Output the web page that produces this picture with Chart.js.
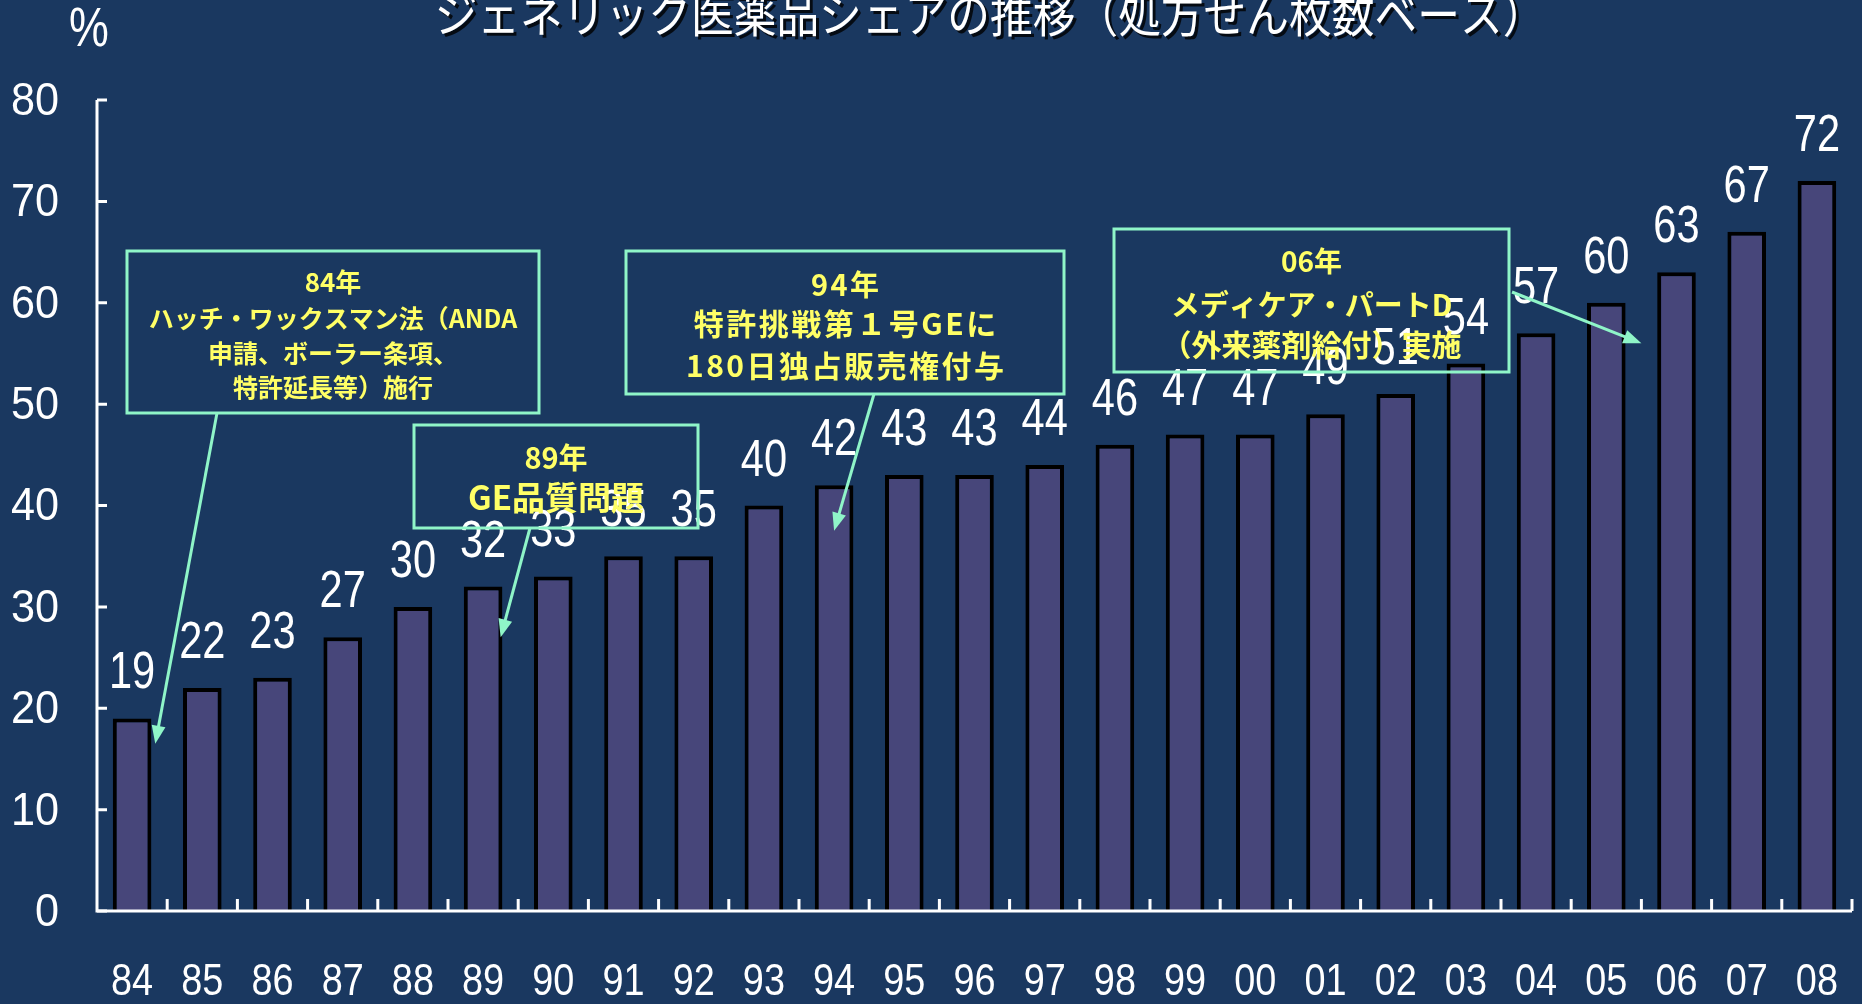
<!DOCTYPE html>
<html>
<head>
<meta charset="utf-8">
<script src="https://cdn.jsdelivr.net/npm/chart.js@4.4.1/dist/chart.umd.min.js"></script>
<style>
  html, body { margin: 0; background: #1a3860; }
  #wrap { width: 1862px; height: 1004px; }
</style>
</head>
<body>
<div id="wrap"><canvas id="share-chart"></canvas></div>
<script>
const years = ["84", "85", "86", "87", "88", "89", "90", "91", "92", "93", "94", "95", "96",
  "97", "98", "99", "00", "01", "02", "03", "04", "05", "06", "07", "08"];
const shares = [19, 22, 23, 27, 30, 32, 33, 35, 35, 40, 42, 43, 43, 44, 46, 47, 47, 49, 51,
  54, 57, 60, 63, 67, 72];
const yTickValues = [0, 10, 20, 30, 40, 50, 60, 70, 80];

const titleText = "ジェネリック医薬品シェアの推移（処方せん枚数ベース）";

// event notes: box in pixels, arrow tip on [category, fraction of category, value]
const notes = [
  { lines: ["84年", "ハッチ・ワックスマン法（ANDA", "申請、ボーラー条項、", "特許延長等）施行"],
    sizes: [26, 25, 25, 25], spacing: 0, lineY: [282, 318, 353, 387],
    box: [127, 251, 412, 162], from: [217, 413], tip: [0, 0.33, 16.5] },
  { lines: ["89年", "GE品質問題"], sizes: [29, 33], spacing: 0, lineY: [458, 497],
    box: [414, 425, 284, 103], from: [530, 528], tip: [5, 0.25, 27] },
  { lines: ["94年", "特許挑戦第１号GEに", "180日独占販売権付与"], sizes: [29, 30, 30], spacing: 2.5,
    lineY: [285, 324, 366], box: [626, 251, 438, 143], from: [874, 394], tip: [10, 0, 37.5] },
  { lines: ["06年", "メディケア・パートD", "（外来薬剤給付）実施"], sizes: [28, 29, 30], spacing: 0,
    lineY: [261, 305, 345], box: [1114, 229, 395, 143], from: [1512, 292], tip: [21, 0.5, 56] },
];

const NUM_FONT = '"Liberation Sans", Arial, sans-serif';
const JP_FONT = '"Noto Sans CJK JP", "Noto Sans", sans-serif';
const mint = "#8ff5c8";
const yellow = "#ffff66";

// narrow text: the reference uses a condensed gothic face
function narrowText(ctx, text, x, y, sx) {
  ctx.save();
  ctx.translate(x, y);
  ctx.scale(sx, 1);
  ctx.fillText(text, 0, 0);
  ctx.restore();
}

const ctx = document.getElementById("share-chart").getContext("2d");

const overlay = {
  id: "overlay",
  afterDatasetsDraw(chart) {
    const { ctx, chartArea, scales } = chart;
    const x = scales.x;
    const y = scales.y;
    const half = (x.getPixelForValue(1) - x.getPixelForValue(0)) / 2;
    ctx.save();

    // axes
    ctx.strokeStyle = "#ffffff";
    ctx.lineWidth = 3;
    ctx.beginPath();
    ctx.moveTo(chartArea.left, y.getPixelForValue(80));
    ctx.lineTo(chartArea.left, chartArea.bottom);
    ctx.lineTo(chartArea.right, chartArea.bottom);
    ctx.stroke();

    // inward tick marks
    ctx.beginPath();
    yTickValues.forEach((v) => {
      const py = y.getPixelForValue(v);
      ctx.moveTo(chartArea.left, py);
      ctx.lineTo(chartArea.left + 10, py);
    });
    for (let i = 0; i < years.length; i++) {
      const px = x.getPixelForValue(i) + half;
      ctx.moveTo(px, chartArea.bottom);
      ctx.lineTo(px, chartArea.bottom - 12);
    }
    ctx.stroke();

    // tick labels
    ctx.fillStyle = "#ffffff";
    ctx.textBaseline = "middle";
    ctx.textAlign = "right";
    ctx.font = "47px " + NUM_FONT;
    yTickValues.forEach((v) => {
      narrowText(ctx, String(v), 59, y.getPixelForValue(v) + 2, 0.92);
    });
    ctx.textAlign = "center";
    ctx.font = "44px " + NUM_FONT;
    years.forEach((lab, i) => {
      narrowText(ctx, lab, x.getPixelForValue(i), 983, 0.86);
    });

    // value labels
    ctx.font = "52px " + NUM_FONT;
    ctx.textBaseline = "alphabetic";
    chart.getDatasetMeta(0).data.forEach((bar, i) => {
      narrowText(ctx, String(shares[i]), bar.x, bar.y - 30, 0.8);
    });

    // notes
    notes.forEach((n) => {
      const [bx, by, bw, bh] = n.box;
      ctx.strokeStyle = mint;
      ctx.lineWidth = 3;
      ctx.strokeRect(bx, by, bw, bh);
      ctx.fillStyle = yellow;
      ctx.textBaseline = "middle";
      ctx.letterSpacing = n.spacing + "px";
      n.lines.forEach((line, k) => {
        ctx.font = "bold " + n.sizes[k] + "px " + JP_FONT;
        ctx.fillText(line, bx + bw / 2 + n.spacing / 2, n.lineY[k]);
      });
      ctx.letterSpacing = "0px";

      const tx = x.getPixelForValue(n.tip[0]) + n.tip[1] * half * 2;
      const ty = y.getPixelForValue(n.tip[2]);
      const [fx, fy] = n.from;
      const ang = Math.atan2(ty - fy, tx - fx);
      const c = Math.cos(ang);
      const s = Math.sin(ang);
      ctx.strokeStyle = mint;
      ctx.fillStyle = mint;
      ctx.lineWidth = 3;
      ctx.beginPath();
      ctx.moveTo(fx, fy);
      ctx.lineTo(tx - 12 * c, ty - 12 * s);
      ctx.stroke();
      ctx.beginPath();
      ctx.moveTo(tx, ty);
      ctx.lineTo(tx - 18 * c + 7 * s, ty - 18 * s - 7 * c);
      ctx.lineTo(tx - 18 * c - 7 * s, ty - 18 * s + 7 * c);
      ctx.closePath();
      ctx.fill();
    });

    // title and unit
    ctx.fillStyle = "#ffffff";
    ctx.textAlign = "center";
    ctx.textBaseline = "middle";
    ctx.shadowColor = "rgba(0, 0, 0, 0.8)";
    ctx.shadowOffsetX = 3;
    ctx.shadowOffsetY = 3;
    ctx.font = "48px " + JP_FONT;
    narrowText(ctx, titleText, 990, 14, 0.89);
    ctx.shadowColor = "transparent";
    ctx.font = "56px " + NUM_FONT;
    narrowText(ctx, "%", 89, 31, 0.8);

    ctx.restore();
  },
};

const shareChart = new Chart(ctx, {
  type: "bar",
  data: {
    labels: years,
    datasets: [
      {
        data: shares,
        backgroundColor: "#47467a",
        borderColor: "#000000",
        borderWidth: 4,
        borderSkipped: "bottom",
        barPercentage: 0.55,
        categoryPercentage: 1,
      },
    ],
  },
  options: {
    responsive: true,
    maintainAspectRatio: false,
    animation: false,
    layout: { padding: { top: 100, right: 10, left: 0, bottom: 0 } },
    plugins: {
      legend: { display: false },
      tooltip: { enabled: false },
    },
    scales: {
      x: {
        grid: { display: false, drawTicks: false },
        border: { display: false },
        ticks: { display: false },
        afterFit: (s) => { s.height = 93; },
      },
      y: {
        min: 0,
        max: 80,
        grid: { display: false, drawTicks: false },
        border: { display: false },
        ticks: { display: false, stepSize: 10 },
        afterFit: (s) => { s.width = 97; },
      },
    },
  },
  plugins: [overlay],
});
</script>
</body>
</html>
